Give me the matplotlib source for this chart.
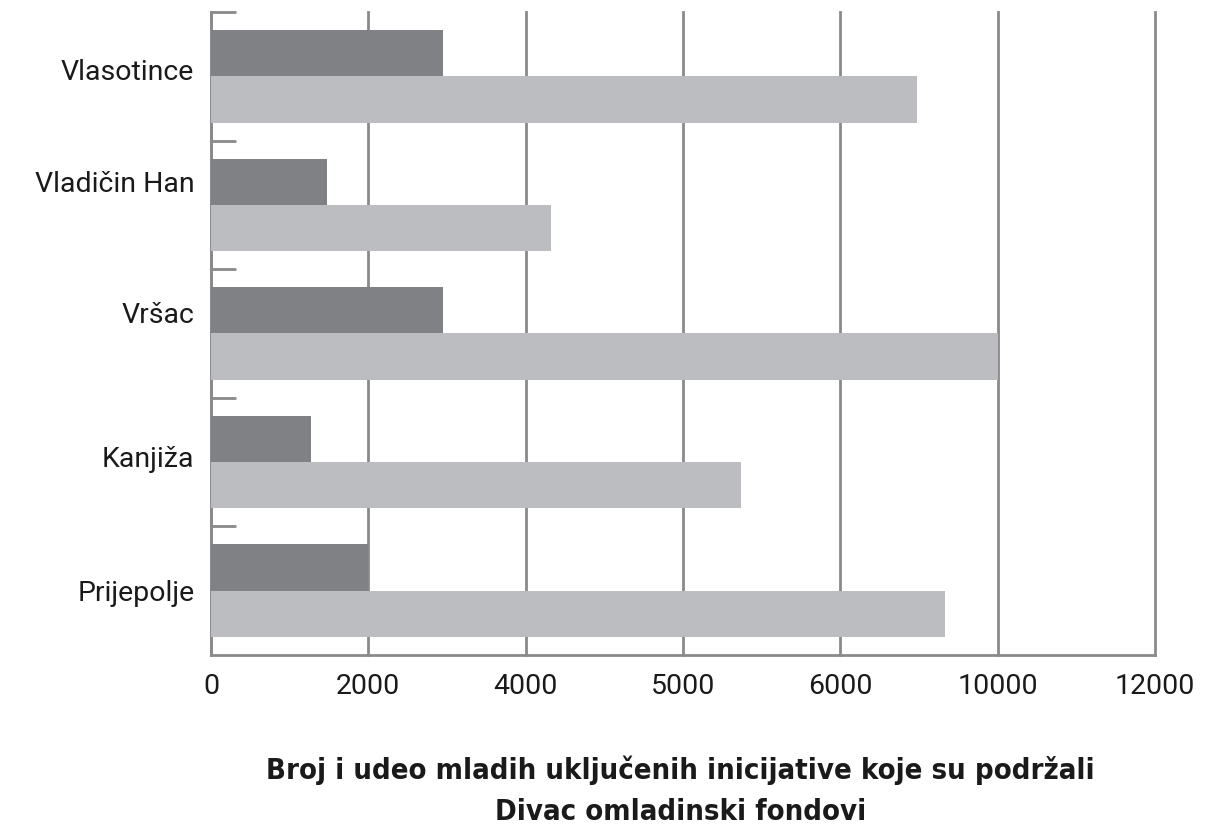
import matplotlib
matplotlib.use("Agg")
import matplotlib.pyplot as plt
import numpy as np


municipalities = ["Vlasotince", "Vladičin Han", "Vršac", "Kanjiža", "Prijepolje"]
youth_dark = [2950, 1475, 2950, 1270, 2000]
youth_light = [8980, 4320, 10000, 6740, 9330]
x_ticks = [0, 2000, 4000, 6000, 8000, 10000, 12000]
x_tick_labels = ["0", "2000", "4000", "5000", "6000", "10000", "12000"]
title_lines = [
    "Broj i udeo mladih uključenih inicijative koje su podržali",
    "Divac omladinski fondovi",
]

DARK = "#808184"
LIGHT = "#bcbdc0"
LINE = "#8a8a8c"
TEXT = "#1a1a1a"

# the original labels do not sit exactly at the band centres
label_shift = [-0.05, -0.18, -0.16, -0.04, 0.0]


def plot_chart(save_path):
    fig = plt.figure(figsize=(12.28, 8.30), dpi=100)
    ax = fig.add_axes([211 / 1228, 1 - 655 / 830, 944 / 1228, 643 / 830])

    y = np.arange(len(municipalities))
    bar_h = 0.36
    ax.barh(y - bar_h / 2, youth_dark, height=bar_h, color=DARK, zorder=3)
    ax.barh(y + bar_h / 2, youth_light, height=bar_h, color=LIGHT, zorder=3)

    ax.set_xlim(0, 12000)
    ax.set_ylim(len(municipalities) - 0.5, -0.5)

    ax.set_xticks(x_ticks)
    ax.set_xticklabels(x_tick_labels)
    ax.set_yticks(y + np.array(label_shift))
    ax.set_yticklabels(municipalities)
    ax.set_yticks(y - 0.5, minor=True)

    ax.tick_params(axis="both", which="major", length=0, labelsize=20.5,
                   labelcolor=TEXT)
    ax.tick_params(axis="x", pad=13)
    ax.tick_params(axis="y", pad=12)
    ax.tick_params(axis="y", which="minor", direction="in", length=18,
                   width=2, color=LINE)
    for lab in ax.get_xticklabels() + ax.get_yticklabels():
        lab.set_fontfamily("Roboto")

    ax.grid(axis="x", color=LINE, linewidth=2, zorder=1)
    for gl in ax.get_xgridlines():
        gl.set_clip_on(False)
    for side in ["top", "right"]:
        ax.spines[side].set_visible(False)
    for side in ["left", "bottom"]:
        ax.spines[side].set_color(LINE)
        ax.spines[side].set_linewidth(2)

    for line_text, ypix in zip(title_lines, [770, 812]):
        fig.text(0.554, 1 - ypix / 830, line_text, ha="center", va="center",
                 fontsize=21, fontweight="bold", fontstretch="condensed",
                 family="DejaVu Sans", color=TEXT)

    fig.savefig(save_path, dpi=100)
    plt.close(fig)


if __name__ == "__main__":
    plot_chart("out.png")
